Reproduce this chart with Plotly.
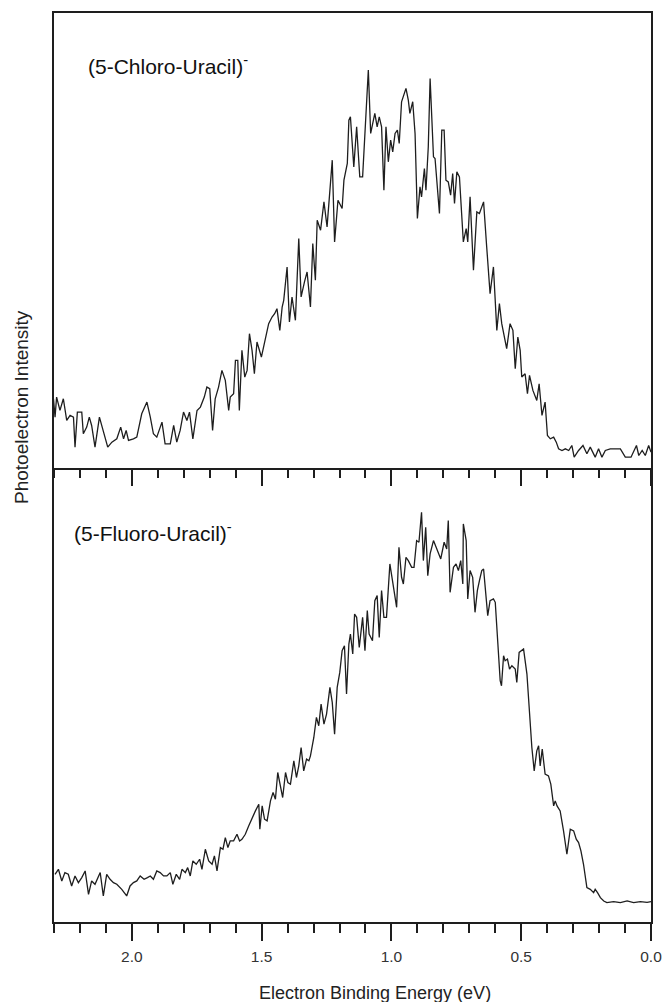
import plotly.graph_objects as go
from plotly.subplots import make_subplots

# ---------------- data ----------------
# (5-Chloro-Uracil)- : electron binding energy (eV) and intensity (arb. units)
energy_cl = [2.302, 2.296, 2.290, 2.277, 2.264, 2.251, 2.238, 2.225, 2.219, 2.210,
             2.193, 2.187, 2.174, 2.164, 2.155, 2.142, 2.125, 2.110, 2.093, 2.077,
             2.058, 2.043, 2.032, 2.022, 2.013, 1.994, 1.981, 1.962, 1.942, 1.929,
             1.917, 1.904, 1.884, 1.872, 1.852, 1.839, 1.827, 1.814, 1.801, 1.788,
             1.778, 1.765, 1.749, 1.736, 1.721, 1.711, 1.700, 1.689, 1.679, 1.666,
             1.653, 1.640, 1.627, 1.621, 1.608, 1.601, 1.592, 1.586, 1.576, 1.565,
             1.556, 1.547, 1.537, 1.528, 1.518, 1.501, 1.486, 1.473, 1.460, 1.450,
             1.441, 1.430, 1.421, 1.415, 1.402, 1.393, 1.383, 1.370, 1.357, 1.348,
             1.335, 1.325, 1.312, 1.303, 1.293, 1.286, 1.273, 1.260, 1.248, 1.237,
             1.228, 1.219, 1.206, 1.190, 1.183, 1.170, 1.164, 1.158, 1.145,
             1.134, 1.122, 1.111, 1.102, 1.089, 1.080, 1.064, 1.055, 1.047, 1.038,
             1.029, 1.021, 1.012, 1.003, 0.995, 0.986, 0.977, 0.970, 0.961, 0.944,
             0.935, 0.929, 0.918, 0.909, 0.900, 0.890, 0.884, 0.873, 0.867, 0.858,
             0.851, 0.838, 0.832, 0.815, 0.806, 0.797, 0.790, 0.781, 0.772, 0.764,
             0.757, 0.748, 0.738, 0.723, 0.712, 0.706, 0.697, 0.684, 0.671, 0.661,
             0.645, 0.633, 0.620, 0.607, 0.594, 0.584, 0.575, 0.556, 0.543, 0.532,
             0.523, 0.513, 0.504, 0.498, 0.485, 0.476, 0.468, 0.455, 0.440, 0.431,
             0.420, 0.408, 0.399, 0.388, 0.375, 0.365, 0.356, 0.343, 0.330, 0.317,
             0.305, 0.296, 0.279, 0.262, 0.247, 0.234, 0.215, 0.202, 0.189, 0.176,
             0.157, 0.137, 0.118, 0.099, 0.077, 0.056, 0.047, 0.034, 0.022, 0.009,
             0.000]
intensity_cl = [20.6, 15.1, 21.1, 17.1, 20.6, 14.1, 15.6, 15.1, 6.1, 16.6,
                16.6, 10.1, 12.1, 15.1, 12.6, 6.1, 15.1, 11.1, 6.1, 7.6,
                8.6, 12.1, 8.6, 11.1, 8.1, 8.6, 9.1, 16.1, 19.6, 15.1,
                10.1, 9.1, 13.6, 7.1, 7.1, 12.6, 7.6, 11.1, 16.6, 14.1,
                16.6, 8.6, 17.1, 18.1, 21.1, 24.1, 23.6, 11.1, 20.6, 24.1,
                29.1, 26.1, 17.1, 21.1, 22.1, 32.1, 32.1, 17.1, 35.1, 27.1,
                29.1, 40.1, 35.1, 28.1, 37.6, 33.1, 38.1, 43.1, 45.1, 46.1,
                47.6, 41.1, 48.1, 50.1, 60.1, 43.6, 51.1, 44.1, 68.6, 51.1,
                55.6, 58.6, 48.1, 67.1, 56.1, 74.1, 71.1, 79.6, 72.1, 83.1,
                92.1, 67.6, 80.1, 77.6, 86.1, 91.1, 104.1, 105.1, 90.1,
                102.1, 87.1, 87.1, 100.1, 119.1, 100.1, 106.1, 102.1, 105.1, 102.1,
                83.1, 102.1, 91.6, 98.1, 94.6, 100.1, 101.1, 97.1, 109.6, 113.6,
                110.1, 106.1, 109.6, 100.1, 74.6, 84.1, 81.1, 89.6, 83.1, 96.1,
                116.6, 93.1, 92.6, 76.1, 101.1, 101.1, 86.1, 85.6, 81.6, 88.1,
                79.1, 88.6, 87.1, 67.6, 71.6, 67.6, 81.1, 59.1, 76.6, 76.1,
                79.6, 66.1, 52.1, 60.1, 41.1, 49.1, 43.1, 35.6, 43.1, 41.1,
                29.6, 39.1, 35.1, 27.1, 28.1, 22.1, 27.6, 23.1, 20.1, 25.1,
                15.6, 19.6, 9.6, 8.6, 9.1, 7.6, 5.6, 5.1, 5.6, 5.1,
                6.6, 3.1, 5.1, 6.6, 4.1, 6.1, 3.1, 5.6, 3.1, 5.1,
                5.6, 5.6, 5.6, 3.1, 3.1, 6.6, 3.6, 5.1, 3.6, 6.6,
                4.6]

# (5-Fluoro-Uracil)-
energy_fu = [2.296, 2.283, 2.270, 2.258, 2.245, 2.232, 2.219, 2.206, 2.193, 2.180,
             2.167, 2.155, 2.142, 2.129, 2.122, 2.110, 2.097, 2.084, 2.071, 2.058,
             2.039, 2.020, 2.007, 1.994, 1.981, 1.968, 1.953, 1.940, 1.929, 1.917,
             1.904, 1.891, 1.878, 1.865, 1.852, 1.842, 1.829, 1.816, 1.807, 1.794,
             1.785, 1.775, 1.765, 1.752, 1.739, 1.730, 1.717, 1.704, 1.691, 1.682,
             1.672, 1.659, 1.649, 1.640, 1.630, 1.621, 1.608, 1.595, 1.585, 1.576,
             1.563, 1.550, 1.537, 1.524, 1.511, 1.507, 1.498, 1.489, 1.479, 1.466,
             1.456, 1.447, 1.438, 1.428, 1.419, 1.408, 1.399, 1.389, 1.376, 1.366,
             1.357, 1.348, 1.338, 1.327, 1.318, 1.312, 1.299, 1.289, 1.280, 1.271,
             1.260, 1.250, 1.237, 1.228, 1.219, 1.209, 1.199, 1.190, 1.181, 1.173,
             1.164, 1.158, 1.149, 1.142,
             1.134, 1.124, 1.111, 1.102, 1.093, 1.086, 1.073, 1.064, 1.055, 1.047,
             1.038, 1.029, 1.019, 1.006, 0.995, 0.986, 0.980, 0.971, 0.961, 0.954,
             0.944, 0.935, 0.922, 0.913, 0.903, 0.894, 0.884, 0.877, 0.868, 0.860,
             0.851, 0.838, 0.823, 0.810, 0.797, 0.787, 0.781, 0.774, 0.761, 0.751,
             0.742, 0.733, 0.725, 0.723, 0.712, 0.706, 0.697, 0.687, 0.678, 0.669,
             0.661, 0.652, 0.645, 0.636, 0.629, 0.620, 0.607, 0.600, 0.591, 0.581,
             0.576, 0.568, 0.562, 0.553, 0.545, 0.536, 0.523, 0.517, 0.508, 0.498,
             0.491, 0.478, 0.468, 0.459, 0.450, 0.440, 0.433, 0.427, 0.419, 0.414,
             0.408, 0.395, 0.386, 0.375, 0.369, 0.362, 0.350, 0.337, 0.324, 0.311,
             0.298, 0.288, 0.279, 0.270, 0.260, 0.247, 0.234, 0.221, 0.215, 0.206,
             0.195, 0.182, 0.170, 0.144, 0.118, 0.092, 0.067, 0.041, 0.015, 0.000]
intensity_fu = [14.3, 15.8, 12.3, 14.8, 14.3, 10.8, 13.8, 11.8, 13.3, 15.3,
                8.3, 12.3, 11.3, 13.3, 14.8, 7.8, 14.3, 12.8, 11.8, 11.3,
                9.8, 7.8, 10.8, 11.8, 12.3, 13.8, 12.8, 13.3, 13.8, 12.8,
                15.3, 14.8, 13.8, 13.8, 14.8, 11.3, 14.3, 12.8, 15.8, 14.8,
                16.3, 13.8, 18.3, 17.3, 18.8, 15.8, 21.8, 18.3, 17.3, 19.8,
                15.3, 22.3, 21.8, 25.3, 22.3, 24.3, 24.3, 26.3, 24.3, 24.8,
                26.3, 28.8, 31.3, 33.3, 35.3, 27.8, 34.8, 30.8, 30.3, 36.3,
                38.8, 36.8, 44.8, 41.3, 37.3, 44.8, 41.8, 41.3, 48.3, 43.3,
                46.8, 52.3, 45.3, 48.8, 48.3, 49.8, 55.3, 61.3, 58.8, 65.3,
                59.3, 62.3, 70.3, 65.8, 56.3, 70.3, 74.8, 81.3, 82.8, 68.3,
                83.3, 86.3, 80.3, 92.3,
                91.3, 82.3, 91.3, 81.3, 93.3, 86.3, 84.3, 96.3, 97.8, 85.3,
                99.3, 91.3, 91.3, 107.3, 102.3, 98.3, 94.3, 112.3, 103.3, 101.3,
                109.3, 108.3, 106.3, 106.3, 114.3, 113.8, 122.8, 108.3, 118.3, 103.8,
                110.3, 114.3, 111.3, 108.8, 113.8, 111.8, 120.3, 98.8, 106.3, 107.3,
                105.3, 108.3, 101.3, 119.3, 114.3, 96.8, 105.3, 103.3, 92.8, 99.3,
                102.3, 105.3, 105.8, 97.3, 91.8, 96.3, 96.8, 95.8, 83.3, 72.3,
                70.8, 79.8, 78.3, 78.8, 75.8, 76.8, 75.8, 71.8, 80.8, 81.3,
                81.8, 74.3, 62.3, 52.3, 45.3, 51.3, 52.8, 46.8, 51.8, 47.3,
                44.3, 43.8, 41.3, 34.8, 36.3, 34.8, 33.3, 27.3, 20.3, 27.8,
                27.3, 24.8, 23.8, 21.3, 17.3, 10.3, 9.8, 8.8, 9.8, 8.8,
                7.3, 6.3, 5.8, 6.1, 5.8, 6.3, 5.8, 6.1, 5.9, 6.1]

panel_labels = ["(5-Chloro-Uracil)<sup>-</sup>", "(5-Fluoro-Uracil)<sup>-</sup>"]
tick_values = [2.0, 1.5, 1.0, 0.5, 0.0]
tick_text = ["2.0", "1.5", "1.0", "0.5", "0.0"]
x_title = "Electron Binding Energy (eV)"
y_title = "Photoelectron Intensity"

# ---------------- figure ----------------
FONT = "Liberation Sans, Arial, sans-serif"
INK = "#1e1e1e"

fig = make_subplots(rows=2, cols=1, shared_xaxes=False, vertical_spacing=0.0)

fig.add_trace(go.Scatter(x=energy_cl, y=intensity_cl, mode="lines",
                         line=dict(color=INK, width=1.3), showlegend=False),
              row=1, col=1)
fig.add_trace(go.Scatter(x=energy_fu, y=intensity_fu, mode="lines",
                         line=dict(color=INK, width=1.3), showlegend=False),
              row=2, col=1)

xcommon = dict(range=[2.3, 0.0], showgrid=False, zeroline=False, automargin=False,
               showline=True, linecolor=INK, linewidth=1.6,
               ticks="outside", ticklen=17, tickwidth=1.6, tickcolor=INK,
               tickvals=tick_values, ticktext=tick_text,
               minor=dict(dtick=0.1, tick0=0.0, ticks="outside", ticklen=9,
                          tickwidth=1.6, tickcolor=INK, showgrid=False))

# top panel: its bottom axis line is the divider; ticks hang down into lower panel
fig.update_xaxes(**xcommon, mirror=True, showticklabels=False, row=1, col=1)
# bottom panel: labelled axis; no mirrored top line (the divider is drawn above)
fig.update_xaxes(**xcommon, mirror=False, showticklabels=True,
                 tickfont=dict(family=FONT, size=15.5, color="#333333"),
                 ticklabelstandoff=3, ticklabeloverflow="allow",
                 row=2, col=1)

ycommon = dict(range=[0, 136.2], showgrid=False, zeroline=False, automargin=False,
               showline=True, linecolor=INK, linewidth=1.6, mirror=True,
               ticks="", showticklabels=False)
fig.update_yaxes(**ycommon, row=1, col=1)
fig.update_yaxes(**ycommon, row=2, col=1)
fig.update_layout(yaxis=dict(domain=[0.5, 1.0]), yaxis2=dict(domain=[0.0, 0.5]))

annotations = [
    dict(text=panel_labels[0], x=2.175, y=120.5, xref="x", yref="y",
         xanchor="left", yanchor="middle", showarrow=False,
         font=dict(family=FONT, size=21, color="#111111")),
    dict(text=panel_labels[1], x=2.232, y=117.0, xref="x2", yref="y2",
         xanchor="left", yanchor="middle", showarrow=False,
         font=dict(family=FONT, size=21, color="#111111")),
    dict(text=x_title, x=0.537, y=-0.0785, xref="paper", yref="paper",
         xanchor="center", yanchor="middle", showarrow=False,
         font=dict(family=FONT, size=18, color="#222222")),
    dict(text=y_title, x=-0.0536, y=0.5666, xref="paper", yref="paper",
         xanchor="center", yanchor="middle", showarrow=False, textangle=-90,
         font=dict(family=FONT, size=19, color="#222222")),
]

fig.update_layout(
    width=662, height=1002,
    margin=dict(l=54, r=11, t=13, b=80, autoexpand=False),
    paper_bgcolor="white", plot_bgcolor="white",
    annotations=annotations,
    font=dict(family=FONT),
)

# remove the page's default 8 px body margin so the figure fills the window exactly
fig.write_html("out.html",
               config={"displayModeBar": False},
               post_script="document.body.style.margin='0';"
                           "document.body.style.overflow='hidden';")
